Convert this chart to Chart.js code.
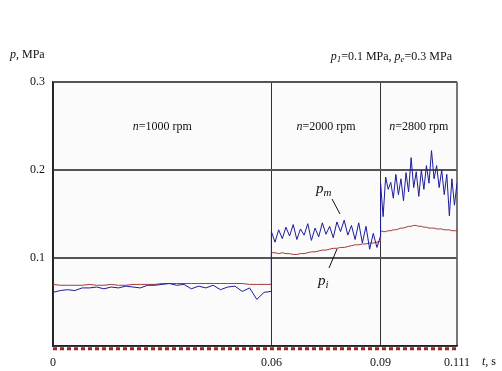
<!DOCTYPE html>
<html>
<head>
<meta charset="utf-8">
<script src="https://cdn.jsdelivr.net/npm/chart.js@4/dist/chart.umd.min.js"></script>
<style>
  body { margin: 0; background: #fff; }
  canvas { display: block; }
</style>
</head>
<body>
<canvas id="myChart" width="502" height="371"></canvas>
<script>
// time, s (three speed regimes)
const t1 = [0, 0.002, 0.004, 0.006, 0.008, 0.010, 0.012, 0.014, 0.016, 0.018, 0.020, 0.022, 0.024, 0.026, 0.028, 0.030,
  0.032, 0.034, 0.036, 0.038, 0.040, 0.042, 0.044, 0.046, 0.048, 0.050, 0.052, 0.054, 0.056, 0.058, 0.060];
const t2 = [0.060, 0.061, 0.062, 0.063, 0.064, 0.065, 0.066, 0.067, 0.068, 0.069, 0.070, 0.071, 0.072, 0.073, 0.074, 0.075,
  0.076, 0.077, 0.078, 0.079, 0.080, 0.081, 0.082, 0.083, 0.084, 0.085, 0.086, 0.087, 0.088, 0.089, 0.090];
const t3 = [0.0900, 0.0907, 0.0914, 0.0921, 0.0928, 0.0935, 0.0942, 0.0949, 0.0956, 0.0963, 0.0970, 0.0977, 0.0984, 0.0991,
  0.0998, 0.1005, 0.1012, 0.1019, 0.1026, 0.1033, 0.1040, 0.1047, 0.1054, 0.1061, 0.1068, 0.1075, 0.1082, 0.1089,
  0.1096, 0.1103, 0.1110];

// pm, MPa
const pm1 = [0.061, 0.063, 0.064, 0.063, 0.066, 0.066, 0.067, 0.065, 0.067, 0.066, 0.068, 0.067, 0.066, 0.069, 0.069, 0.070,
  0.071, 0.069, 0.070, 0.065, 0.068, 0.066, 0.069, 0.064, 0.067, 0.068, 0.062, 0.066, 0.053, 0.061, 0.062];
const pm2 = [0.130, 0.118, 0.132, 0.122, 0.135, 0.125, 0.138, 0.121, 0.133, 0.126, 0.139, 0.120, 0.134, 0.124, 0.140, 0.127,
  0.136, 0.123, 0.141, 0.130, 0.143, 0.126, 0.137, 0.121, 0.140, 0.117, 0.136, 0.110, 0.128, 0.112, 0.125];
const pm3 = [0.185, 0.147, 0.192, 0.178, 0.186, 0.168, 0.195, 0.172, 0.190, 0.165, 0.197, 0.175, 0.214, 0.180, 0.198, 0.170,
  0.200, 0.178, 0.205, 0.185, 0.222, 0.190, 0.205, 0.180, 0.200, 0.172, 0.195, 0.148, 0.190, 0.160, 0.185];

// pi, MPa
const pi1 = [0.070, 0.069, 0.069, 0.069, 0.069, 0.070, 0.069, 0.069, 0.070, 0.069, 0.069, 0.070, 0.070, 0.070, 0.070, 0.071,
  0.071, 0.071, 0.071, 0.071, 0.071, 0.071, 0.071, 0.071, 0.071, 0.071, 0.071, 0.070, 0.070, 0.070, 0.070];
const pi2 = [0.106, 0.106, 0.105, 0.106, 0.105, 0.105, 0.104, 0.104, 0.105, 0.105, 0.106, 0.107, 0.107, 0.108, 0.109, 0.109,
  0.110, 0.111, 0.111, 0.112, 0.112, 0.113, 0.114, 0.115, 0.115, 0.116, 0.116, 0.117, 0.117, 0.118, 0.119];
const pi3 = [0.131, 0.130, 0.130, 0.131, 0.131, 0.132, 0.132, 0.133, 0.134, 0.134, 0.135, 0.136, 0.136, 0.137, 0.137, 0.136,
  0.136, 0.135, 0.135, 0.134, 0.134, 0.134, 0.133, 0.133, 0.133, 0.132, 0.132, 0.132, 0.131, 0.131, 0.131];

// baseline (dashed), x ticks, y ticks
const baseT = [0, 0.111];
const baseP = [-0.003, -0.003];
const xTicks = [0, 0.06, 0.09, 0.111];
const yTicks = [0, 0.1, 0.2, 0.3];
const regimes = ["1000", "2000", "2800"];

function pts(ts, ps) {
  return ts.map((t, i) => ({ x: t, y: ps[i] }));
}

const serif = "'Liberation Serif', 'Times New Roman', serif";

const textPlugin = {
  id: "texts",
  beforeDraw(chart) {
    const a = chart.chartArea, ctx = chart.ctx;
    ctx.save();
    ctx.fillStyle = "#fbfbfb";
    ctx.fillRect(a.left, a.top, a.right - a.left, a.bottom - a.top);
    ctx.restore();
  },
  afterDraw(chart) {
    const ctx = chart.ctx, x = chart.scales.x, y = chart.scales.y;
    ctx.save();
    ctx.fillStyle = "#111";
    ctx.strokeStyle = "#111";
    ctx.textBaseline = "middle";

    // draw runs of [text, style] left aligned from x0
    function runs(x0, y0, parts) {
      let cx = x0;
      parts.forEach(p => {
        ctx.font = p[1];
        const dy = p[2] || 0;
        ctx.fillText(p[0], cx, y0 + dy);
        cx += ctx.measureText(p[0]).width;
      });
      return cx - x0;
    }
    function width(parts) {
      let w = 0;
      parts.forEach(p => { ctx.font = p[1]; w += ctx.measureText(p[0]).width; });
      return w;
    }
    const it = "italic 12px " + serif, rm = "12px " + serif, sub = "italic 9px " + serif;

    ctx.textAlign = "left";
    runs(10, 55, [["p", it], [", MPa", rm]]);
    const head = [["p", it], ["1", sub, 3], ["=0.1 MPa, ", rm], ["p", it], ["e", sub, 3], ["=0.3 MPa", rm]];
    runs(452 - width(head), 57, head);
    runs(482, 362, [["t", it], [", s", rm]]);

    const edges = [0, 0.06, 0.09, 0.111];
    regimes.forEach((n, i) => {
      const cxm = (x.getPixelForValue(edges[i]) + x.getPixelForValue(edges[i + 1])) / 2;
      const parts = [["n", it], ["=" + n + " rpm", rm]];
      runs(cxm - width(parts) / 2, 127, parts);
    });

    // pm, pi labels with leader lines
    const big = "italic 15px " + serif, bsub = "italic 11px " + serif;
    runs(316, 189, [["p", big], ["m", bsub, 4]]);
    runs(318, 281, [["p", big], ["i", bsub, 4]]);
    ctx.lineWidth = 1;
    ctx.beginPath();
    ctx.moveTo(332, 199); ctx.lineTo(340, 214);
    ctx.moveTo(329, 268); ctx.lineTo(337, 249);
    ctx.stroke();
    ctx.restore();
  }
};

const config = {
  type: "line",
  data: {
    datasets: [
      {
        label: "base",
        data: pts(baseT, baseP),
        borderColor: "#a52222",
        borderWidth: 3,
        borderDash: [4, 3],
        pointRadius: 0,
        clip: false,
      },
      {
        label: "pm",
        data: pts(t1.concat(t2, t3), pm1.concat(pm2, pm3)),
        borderColor: "#1c1c9c",
        borderWidth: 1,
        pointRadius: 0,
        tension: 0,
      },
      {
        label: "pi",
        data: pts(t1.concat(t2, t3), pi1.concat(pi2, pi3)),
        borderColor: "#a33a3a",
        borderWidth: 1,
        pointRadius: 0,
        tension: 0,
      },
    ],
  },
  options: {
    responsive: false,
    animation: false,
    layout: { padding: { top: 82, right: 45, left: 0, bottom: 0 } },
    plugins: { legend: { display: false }, tooltip: { enabled: false } },
    scales: {
      x: {
        type: "linear",
        min: 0,
        max: 0.111,
        afterBuildTicks: s => { s.ticks = xTicks.map(v => ({ value: v })); },
        afterFit: s => { s.height = 25; },
        grid: {
          drawTicks: false,
          color: c => (c.tick && c.tick.value === 0.111 ? "#777" : "#333"),
          lineWidth: c => (c.tick && c.tick.value === 0.111 ? 2 : 1),
        },
        border: { color: "#222", width: 1.5 },
        ticks: {
          padding: 10,
          font: { family: serif, size: 12 },
          color: "#111",
          callback: v => String(v),
        },
      },
      y: {
        min: 0,
        max: 0.3,
        afterBuildTicks: s => { s.ticks = yTicks.map(v => ({ value: v })); },
        afterFit: s => { s.width = 53; },
        grid: { drawTicks: false, color: "#555", lineWidth: 2 },
        border: { color: "#222", width: 1.5 },
        ticks: {
          padding: 8,
          font: { family: serif, size: 12 },
          color: "#111",
          callback: v => (v === 0 ? "" : v.toFixed(1)),
        },
      },
    },
  },
  plugins: [textPlugin],
};

const myChart = new Chart(document.getElementById("myChart"), config);
</script>
</body>
</html>
